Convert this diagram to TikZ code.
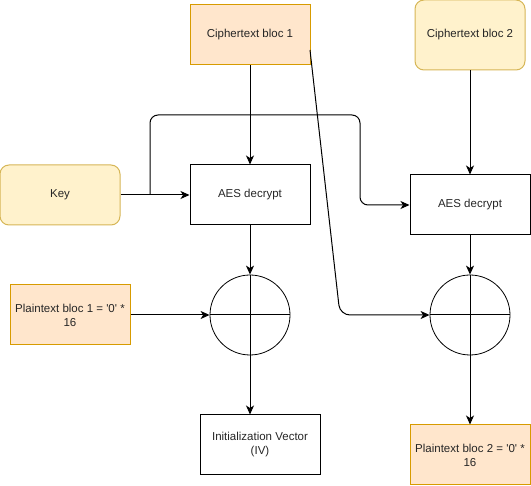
\documentclass[tikz,border=0pt]{standalone}
\usepackage{fontspec}
\setmainfont{Liberation Sans}
\usetikzlibrary{arrows.meta}

\definecolor{orng}{HTML}{FFE6CC}
\definecolor{orngline}{HTML}{D79B00}
\definecolor{ylw}{HTML}{FFF2CC}
\definecolor{ylwline}{HTML}{D6B656}

\begin{document}
\begin{tikzpicture}[x=1pt, y=-1pt, >={Stealth[length=9pt, width=8pt, inset=2.5pt]},
    font=\fontsize{11.5}{14}\selectfont,
    box/.style={draw, line width=1pt, inner sep=2pt, align=center, text=black!85,
      minimum width=120pt, minimum height=60pt},
    orangebox/.style={box, fill=orng, draw=orngline},
    yellowbox/.style={box, fill=ylw, draw=ylwline, rounded corners=9pt},
    xorgate/.style={draw, circle, minimum size=80pt, inner sep=0pt, line width=0.8pt},
    link/.style={->, line width=1pt}]
    \useasboundingbox (0,0) rectangle (531,486);

    % Inputs
    \node[orangebox] (c1) at (250,35) {Ciphertext bloc 1};
    \node[yellowbox, minimum width=110pt, minimum height=70pt] (c2) at (470,35) {Ciphertext bloc 2};
    \node[yellowbox] (key) at (60,195) {Key};
    \node[orangebox] (p1) at (70,315) {Plaintext bloc 1 = \textquotesingle0\textquotesingle\ *\\16};

    % Block ciphers
    \node[box] (aes1) at (250,195) {AES decrypt};
    \node[box] (aes2) at (470,205) {AES decrypt};

    % XOR gates
    \node[xorgate] (x1) at (250,315) {};
    \node[xorgate] (x2) at (470,315) {};
    \draw[line width=1pt] (x1.north) -- (x1.south) (x1.west) -- (x1.east);
    \draw[line width=1pt] (x2.north) -- (x2.south) (x2.west) -- (x2.east);

    % Outputs
    \node[box] (iv) at (260,445) {Initialization Vector\\(IV)};
    \node[orangebox] (p2) at (470,455) {Plaintext bloc 2 = \textquotesingle0\textquotesingle\ *\\16};

    % Helper points
    \coordinate (split) at (150,195);
    \coordinate (ktop) at (360,115);
    \coordinate (c1out) at (310,50);
    \coordinate (bend) at (340,315);

    % Connectors
    \draw[link] (c1) -- (aes1);
    \draw[link] (c2) -- (aes2);
    \draw[link] (key) -- (aes1);
    \draw[link, rounded corners=8pt] (split) |- (ktop) |- (aes2.west);
    \draw[link, rounded corners=10pt] (c1out) -- (bend) -- (x2.west);
    \draw[link] (aes1) -- (x1);
    \draw[link] (aes2) -- (x2);
    \draw[link] (p1) -- (x1);
    \draw[link] (x1.south) -- (x1.south |- iv.north);
    \draw[link] (x2) -- (p2);
\end{tikzpicture}
\end{document}
